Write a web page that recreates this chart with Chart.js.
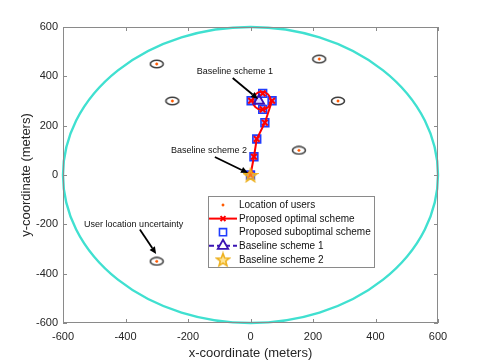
<!DOCTYPE html>
<html>
<head>
<meta charset="utf-8">
<script src="https://cdn.jsdelivr.net/npm/chart.js@4.4.0/dist/chart.umd.min.js"></script>
<style>
	html, body { margin: 0; padding: 0; background: #fff; }
	#wrap { width: 485px; height: 363px; }
</style>
</head>
<body>
<div id="wrap"><canvas id="plot"></canvas></div>
<script>
// axis ticks (meters)
const tickValues = [-600, -400, -200, 0, 200, 400, 600];
// users
const userX = [-300, -250, 220, 280, 155, -300];
const userY = [450, 300, 470, 300, 100, -350];
// proposed optimal scheme: straight path, then points on the hovering loop
const optX = [0, 11, 20, 46, 69];
const optY = [0, 74, 146, 212, 301];
const loopX = [39, 2, 39];
const loopY = [331, 301, 266];
const loopCenterX = [36];
const loopCenterY = [301];
// proposed suboptimal scheme
const subX = [0, 11, 20, 46, 69, 39, 2, 39];
const subY = [0, 74, 146, 212, 301, 331, 301, 266];
// baselines
const base1X = [27];
const base1Y = [301];
const base2X = [0];
const base2Y = [0];
// coverage area
const areaRadius = 600;
// annotations: text position and arrow (from -> to)
const noteText = ["Baseline scheme 1", "Baseline scheme 2", "User location uncertainty"];
const noteX = [-50, -133, -374];
const noteY = [418, 101, -199];
const arrowFromX = [-57, -114, -354];
const arrowFromY = [393, 73, -221];
const arrowToX = [24, -8, -302];
const arrowToY = [308, 8, -320];

const FONT = "'Liberation Sans', Arial, Helvetica, sans-serif";
const RED = '#ff0000', BLUE = '#1f3dff', DARKBLUE = '#3a14b4', GOLD = '#edb120', TURQ = '#40e0d0', ORANGE = '#ff5a00';

function pts(xs, ys) {
	return xs.map((x, i) => ({ x: x, y: ys[i] }));
}

// ellipse marker for location uncertainty
function makeEllipse() {
	const c = document.createElement('canvas');
	c.width = 16; c.height = 10;
	const g = c.getContext('2d');
	g.strokeStyle = '#404040';
	g.lineWidth = 1.6;
	g.beginPath();
	g.ellipse(8, 5, 6.5, 3.7, 0, 0, Math.PI * 2);
	g.stroke();
	return c;
}
// filled 5-pointed star marker
function makeStar(size) {
	const c = document.createElement('canvas');
	c.width = size; c.height = size;
	const g = c.getContext('2d');
	const cx = size / 2, cy = size / 2 + 0.8, R = size / 2 - 1.2, r = R * 0.42;
	g.beginPath();
	for (let i = 0; i < 10; i++) {
		const a = -Math.PI / 2 + i * Math.PI / 5;
		const rr = i % 2 ? r : R;
		g.lineTo(cx + rr * Math.cos(a), cy + rr * Math.sin(a));
	}
	g.closePath();
	g.fillStyle = 'rgba(255,205,60,0.55)';
	g.fill();
	g.strokeStyle = GOLD;
	g.lineWidth = 1.6;
	g.stroke();
	return c;
}
const ellipseImg = makeEllipse();
const starImg = makeStar(16);

function arrow(ctx, x0, y0, x1, y1) {
	const a = Math.atan2(y1 - y0, x1 - x0);
	const hl = 7, hw = 3.2;
	const bx = x1 - hl * Math.cos(a), by = y1 - hl * Math.sin(a);
	ctx.strokeStyle = '#000';
	ctx.fillStyle = '#000';
	ctx.lineWidth = 1.8;
	ctx.beginPath();
	ctx.moveTo(x0, y0);
	ctx.lineTo(bx, by);
	ctx.stroke();
	ctx.beginPath();
	ctx.moveTo(x1, y1);
	ctx.lineTo(bx + hw * Math.sin(a), by - hw * Math.cos(a));
	ctx.lineTo(bx - hw * Math.sin(a), by + hw * Math.cos(a));
	ctx.closePath();
	ctx.fill();
}

const plotExtras = {
	id: 'plotExtras',
	beforeDatasetsDraw(chart) {
		const { ctx, scales: { x, y } } = chart;
		ctx.save();
		// coverage circle
		const cx = x.getPixelForValue(0), cy = y.getPixelForValue(0);
		const rx = x.getPixelForValue(areaRadius) - cx, ry = cy - y.getPixelForValue(areaRadius);
		ctx.strokeStyle = TURQ;
		ctx.lineWidth = 2.4;
		ctx.beginPath();
		ctx.ellipse(cx, cy, rx, ry, 0, 0, Math.PI * 2);
		ctx.stroke();
		ctx.restore();
	},
	afterDatasetsDraw(chart) {
		const { ctx, chartArea: a, scales: { x, y } } = chart;
		ctx.save();
		// box and inward ticks
		ctx.strokeStyle = '#8a8a8a';
		ctx.lineWidth = 1;
		ctx.strokeRect(a.left + 0.5, a.top + 0.5, a.right - a.left - 1, a.bottom - a.top - 1);
		ctx.beginPath();
		tickValues.forEach(v => {
			const px = Math.round(x.getPixelForValue(v)) + 0.5;
			const py = Math.round(y.getPixelForValue(v)) + 0.5;
			ctx.moveTo(px, a.bottom); ctx.lineTo(px, a.bottom - 4);
			ctx.moveTo(px, a.top); ctx.lineTo(px, a.top + 4);
			ctx.moveTo(a.left, py); ctx.lineTo(a.left + 4, py);
			ctx.moveTo(a.right, py); ctx.lineTo(a.right - 4, py);
		});
		ctx.stroke();

		// annotations
		ctx.font = '9px ' + FONT;
		ctx.textAlign = 'center';
		ctx.textBaseline = 'middle';
		noteText.forEach((t, i) => {
			ctx.fillStyle = '#111';
			ctx.fillText(t, x.getPixelForValue(noteX[i]), y.getPixelForValue(noteY[i]));
			arrow(ctx, x.getPixelForValue(arrowFromX[i]), y.getPixelForValue(arrowFromY[i]),
				x.getPixelForValue(arrowToX[i]), y.getPixelForValue(arrowToY[i]));
		});

		// legend
		const L = 208, T = 196, W = 166, H = 71;
		ctx.fillStyle = '#fff';
		ctx.fillRect(L, T, W, H);
		ctx.strokeStyle = '#8a8a8a';
		ctx.lineWidth = 1;
		ctx.strokeRect(L + 0.5, T + 0.5, W, H);
		const items = chart.data.datasets.filter(d => d.inLegend);
		const drawPoint = Chart.helpers.drawPoint;
		items.forEach((d, i) => {
			const ry = T + 9 + i * 13.6;
			const mx = L + 15;
			if (d.legendLine) {
				ctx.save();
				ctx.strokeStyle = d.borderColor;
				ctx.lineWidth = 2;
				ctx.setLineDash(d.borderDash || []);
				ctx.beginPath();
				ctx.moveTo(L + 1, ry); ctx.lineTo(L + 29, ry);
				ctx.stroke();
				ctx.restore();
			}
			ctx.save();
			if (d.pointStyle instanceof HTMLCanvasElement) {
				ctx.drawImage(d.pointStyle, mx - d.pointStyle.width / 2, ry - d.pointStyle.height / 2);
			} else {
				ctx.fillStyle = d.legendFill ? d.pointBackgroundColor : 'rgba(255,255,255,1)';
				ctx.strokeStyle = d.pointBorderColor;
				ctx.lineWidth = d.pointBorderWidth || 1;
				drawPoint(ctx, { pointStyle: d.pointStyle, radius: d.legendRadius || d.pointRadius, borderWidth: d.pointBorderWidth || 1, rotation: 0 }, mx, ry);
			}
			ctx.restore();
			ctx.font = '10px ' + FONT;
			ctx.fillStyle = '#111';
			ctx.textAlign = 'left';
			ctx.textBaseline = 'middle';
			ctx.fillText(d.label, L + 31, ry + 0.5);
		});
		ctx.restore();
	}
};

const ctx = document.getElementById('plot').getContext('2d');
new Chart(ctx, {
	type: 'scatter',
	data: {
		datasets: [
			{
				label: 'uncertainty',
				data: pts(userX, userY),
				pointStyle: ellipseImg,
				pointRadius: 6,
				order: 20
			}, {
				label: 'Location of users',
				inLegend: true,
				data: pts(userX, userY),
				pointStyle: 'circle',
				pointRadius: 1.2,
				legendRadius: 1.2,
				pointBorderWidth: 0.5,
				pointBackgroundColor: ORANGE,
				pointBorderColor: ORANGE,
				legendFill: true,
				order: 19
			}, {
				label: 'Proposed optimal scheme',
				inLegend: true,
				legendLine: true,
				data: pts(optX, optY),
				showLine: true,
				borderColor: RED,
				borderWidth: 2,
				pointStyle: 'crossRot',
				pointRadius: 4,
				legendRadius: 3.5,
				pointBorderWidth: 2,
				pointBorderColor: RED,
				order: 5
			}, {
				label: 'Proposed suboptimal scheme',
				inLegend: true,
				data: pts(subX, subY),
				pointStyle: 'rect',
				pointRadius: 5.5,
				legendRadius: 5,
				pointBorderWidth: 1.6,
				pointBorderColor: BLUE,
				pointBackgroundColor: 'rgba(90,110,255,0.55)',
				order: 8
			}, {
				label: 'loop',
				data: pts(loopX, loopY),
				pointStyle: 'crossRot',
				pointRadius: 4,
				pointBorderWidth: 2,
				pointBorderColor: RED,
				order: 5
			}, {
				label: 'hover',
				data: pts(loopCenterX, loopCenterY),
				pointStyle: 'circle',
				pointRadius: 9,
				pointBorderWidth: 2,
				pointBorderColor: RED,
				pointBackgroundColor: 'transparent',
				order: 6
			}, {
				label: 'Baseline scheme 1',
				inLegend: true,
				legendLine: true,
				data: pts(base1X, base1Y),
				borderColor: DARKBLUE,
				borderDash: [5, 3],
				pointStyle: 'triangle',
				pointRadius: 6,
				pointBorderWidth: 1.8,
				pointBorderColor: DARKBLUE,
				pointBackgroundColor: 'rgba(160,150,255,0.35)',
				order: 4
			}, {
				label: 'Baseline scheme 2',
				inLegend: true,
				data: pts(base2X, base2Y),
				pointStyle: starImg,
				pointRadius: 7,
				order: 3
			}
		]
	},
	options: {
		responsive: true,
		maintainAspectRatio: false,
		animation: false,
		events: [],
		layout: { padding: { left: 0, right: 47, top: 27, bottom: 0 } },
		plugins: { legend: { display: false }, tooltip: { enabled: false } },
		scales: {
			x: {
				type: 'linear',
				min: -600, max: 600,
				afterFit: s => { s.height = 40; },
				afterBuildTicks: s => { s.ticks = tickValues.map(v => ({ value: v })); },
				grid: { display: false, drawTicks: false },
				border: { display: false },
				ticks: { color: '#262626', padding: 7, maxRotation: 0, font: { family: FONT, size: 11 } },
				title: { display: true, text: 'x-coordinate (meters)', color: '#262626', padding: { top: 0, bottom: 2 }, font: { family: FONT, size: 13 } }
			},
			y: {
				type: 'linear',
				min: -600, max: 600,
				afterFit: s => { s.width = 63; },
				afterBuildTicks: s => { s.ticks = tickValues.map(v => ({ value: v })); },
				grid: { display: false, drawTicks: false },
				border: { display: false },
				ticks: { color: '#262626', padding: 5, font: { family: FONT, size: 11 } },
				title: { display: true, text: 'y-coordinate (meters)', color: '#262626', padding: { top: 19, bottom: 19 }, font: { family: FONT, size: 13 } }
			}
		}
	},
	plugins: [plotExtras]
});
</script>
</body>
</html>
